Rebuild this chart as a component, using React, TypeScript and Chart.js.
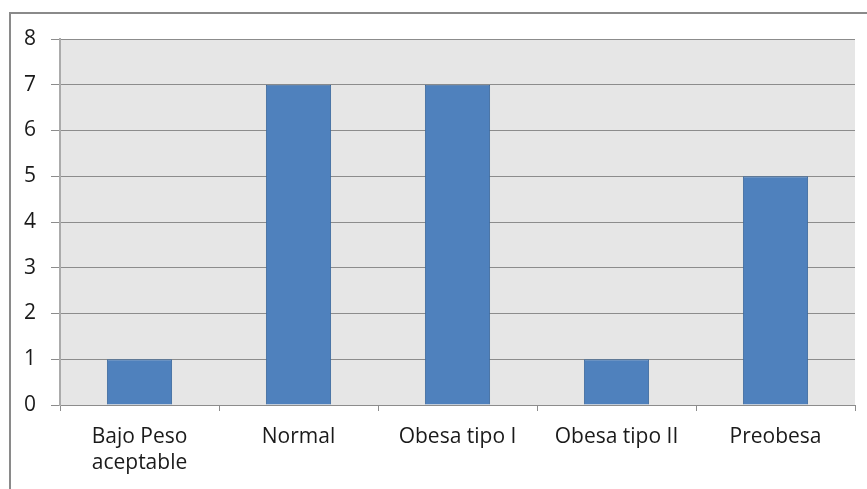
import React, { useEffect, useRef } from "react";
import { Chart, registerables } from "chart.js";

Chart.register(...registerables);

const categories: (string | string[])[] = [
  ["Bajo Peso", "aceptable"],
  "Normal",
  "Obesa tipo I",
  "Obesa tipo II",
  "Preobesa",
];
const values: number[] = [1, 7, 7, 1, 5];
const yTicks: number[] = [0, 1, 2, 3, 4, 5, 6, 7, 8];

const plotBg = {
  id: "plotBg",
  beforeDraw(chart: any) {
    const { ctx, chartArea } = chart;
    ctx.save();
    ctx.fillStyle = "#E6E6E6";
    ctx.fillRect(chartArea.left, chartArea.top, chartArea.right - chartArea.left, chartArea.bottom - chartArea.top);
    ctx.restore();
  },
};

export default function App() {
  const ref = useRef<HTMLCanvasElement>(null);
  useEffect(() => {
    if (!ref.current) return;
    const chart = new Chart(ref.current, {
      type: "bar",
      data: {
        labels: categories,
        datasets: [
          {
            data: values,
            backgroundColor: "#4F81BD",
            borderColor: "#3D6A9E",
            borderWidth: 1,
            categoryPercentage: 1,
            barPercentage: 0.41,
          },
        ],
      },
      options: {
        animation: false,
        responsive: false,
        maintainAspectRatio: false,
        layout: { padding: { top: 39, right: 12, left: 0, bottom: 0 } },
        plugins: { legend: { display: false }, tooltip: { enabled: false } },
        scales: {
          x: {
            afterFit(scale: any) {
              scale.height = 489 - 405;
            },
            grid: {
              offset: true,
              drawOnChartArea: false,
              drawTicks: true,
              tickLength: 6,
              color: "#8C8C8C",
            },
            border: { display: true, color: "#8C8C8C" },
            ticks: {
              color: "#1a1a1a",
              font: { family: "Open Sans", size: 21, lineHeight: 1.25 },
              padding: 13,
              maxRotation: 0,
              autoSkip: false,
            },
          },
          y: {
            min: 0,
            max: 8,
            afterFit(scale: any) {
              scale.width = 60;
            },
            afterBuildTicks(scale: any) {
              scale.ticks = yTicks.map((v) => ({ value: v }));
            },
            grid: {
              color: "#8C8C8C",
              tickLength: 9,
            },
            border: { display: true, color: "#ABABAB", width: 2 },
            ticks: {
              color: "#1a1a1a",
              font: { family: "Open Sans", size: 21 },
              padding: 15,
            },
          },
        },
      },
      plugins: [plotBg],
    });
    return () => chart.destroy();
  }, []);
  return (
    <div style={{ position: "fixed", left: 0, top: 0, width: 867, height: 489, overflow: "hidden", background: "#fff" }}>
      <div
        style={{
          position: "absolute",
          left: 9,
          top: 12,
          width: 900,
          height: 520,
          border: "2px solid #8A8A8A",
          boxSizing: "border-box",
        }}
      />
      <canvas ref={ref} width={867} height={489} style={{ position: "absolute", left: 0, top: 0 }} />
    </div>
  );
}
